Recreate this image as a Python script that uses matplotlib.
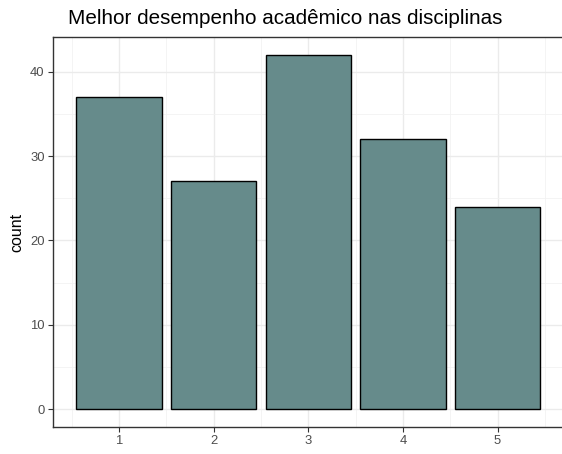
import matplotlib
matplotlib.use("Agg")
import matplotlib.pyplot as plt
from matplotlib.ticker import MultipleLocator

categories = [1, 2, 3, 4, 5]
counts = [37, 27, 42, 32, 24]
title = "Melhor desempenho acadêmico nas disciplinas"

plt.rcParams['font.family'] = ['Liberation Sans', 'DejaVu Sans']

fig = plt.figure(figsize=(5.62, 4.54), dpi=100)
ax = fig.add_axes([53.3/562, 27.3/454, 511/562, 389.4/454])

ax.bar(categories, counts, width=0.9, color='#668B8B', edgecolor='black', linewidth=1.0, zorder=3)

ax.set_xlim(0.305, 5.705)
ax.set_ylim(-2.1, 44.1)
ax.xaxis.set_major_locator(MultipleLocator(1))
ax.xaxis.set_minor_locator(MultipleLocator(0.5))
ax.yaxis.set_major_locator(MultipleLocator(10))
ax.yaxis.set_minor_locator(MultipleLocator(5))
ax.grid(which='major', color='#EBEBEB', linewidth=1.0, zorder=0)
ax.grid(which='minor', color='#F2F2F2', linewidth=0.6, zorder=0)
ax.set_axisbelow(True)
for s in ax.spines.values():
    s.set_color('#333333')
    s.set_linewidth(1.0)
ax.tick_params(which='major', length=3.3, color='#333333', labelcolor='#4D4D4D', labelsize=9.4, width=0.8, pad=3)
ax.tick_params(which='minor', length=0)
ax.set_ylabel('count', fontsize=11.5, color='black', labelpad=4)
fig.text(68/562, 1 - 19/454, title, fontsize=14.9, ha='left', va='center', color='black')

fig.savefig('out.png', dpi=100)
